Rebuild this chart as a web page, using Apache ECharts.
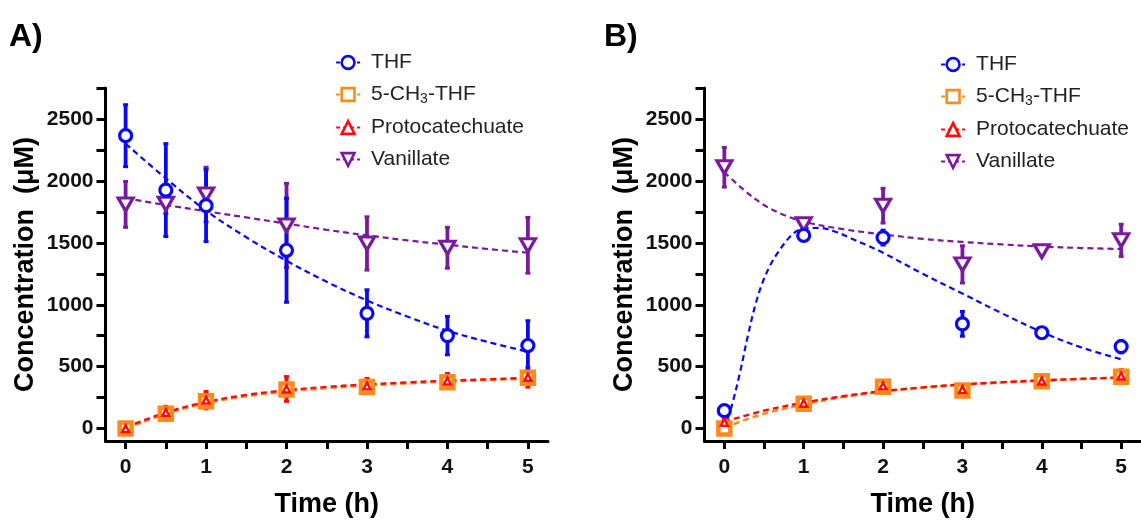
<!DOCTYPE html>
<html>
<head>
<meta charset="utf-8">
<script src="https://cdn.jsdelivr.net/npm/echarts@6/dist/echarts.min.js"></script>
<style>
html,body{margin:0;padding:0;background:#fff;}
#chart{width:1141px;height:523px;}
</style>
</head>
<body>
<div id="chart"></div>
<script>
// ---------- DATA ----------
const seriesNames = ['THF', '5-CH3-THF', 'Protocatechuate', 'Vanillate'];
const xTicks = [0, 0.5, 1, 1.5, 2, 2.5, 3, 3.5, 4, 4.5, 5];
const xLabels = [0, 1, 2, 3, 4, 5];
const yTicks = [0, 250, 500, 750, 1000, 1250, 1500, 1750, 2000, 2250, 2500, 2750];
const yLabels = [0, 500, 1000, 1500, 2000, 2500];

// Panel A measured points (mean, error)
const timesA = [0, 0.5, 1, 2, 3, 4, 5];
const thfA = [2365, 1926, 1800, 1440, 931, 751, 671];
const thfErrA = [250, 375, 290, 420, 190, 155, 200];
const ch3A = [0, 120, 220, 315, 335, 375, 410];
const ch3ErrA = [20, 30, 40, 60, 40, 40, 40];
const protoA = [0, 130, 230, 320, 345, 385, 415];
const protoErrA = [20, 50, 70, 100, 60, 60, 80];
const vanA = [1810, 1815, 1890, 1640, 1495, 1460, 1480];
const vanErrA = [185, 80, 220, 340, 215, 165, 225];

// Panel A fitted curves
const fitTA = [0, 0.5, 1, 1.5, 2, 2.5, 3, 3.5, 4, 4.5, 5];
const thfFitA = [2300, 2020, 1760, 1545, 1355, 1185, 1035, 905, 790, 700, 620];
const ch3FitA = [0, 120, 205, 262, 300, 327, 348, 365, 380, 393, 405];
const protoFitA = [10, 130, 215, 272, 310, 337, 357, 373, 387, 398, 410];
const vanFitA = [1860, 1805, 1755, 1705, 1655, 1605, 1560, 1520, 1485, 1450, 1420];

// Panel B measured points
const timesB = [0, 1, 2, 3, 4, 5];
const thfB = [145, 1560, 1542, 846, 774, 662];
const thfErrB = [15, 40, 60, 100, 20, 50];
const ch3B = [0, 200, 339, 307, 382, 419];
const ch3ErrB = [15, 25, 30, 30, 25, 30];
const protoB = [50, 205, 345, 315, 385, 425];
const protoErrB = [25, 40, 40, 30, 40, 50];
const vanB = [2110, 1650, 1800, 1326, 1432, 1520];
const vanErrB = [160, 40, 140, 150, 20, 130];

// Panel B fitted curves
const thfFitTB = [0, 0.1, 0.2, 0.3, 0.4, 0.5, 0.6, 0.7, 0.8, 0.9, 1, 1.2, 1.4, 1.6, 1.8, 2, 2.5, 3, 3.5, 4, 4.5, 5];
const thfFitB = [0, 200, 460, 760, 1020, 1210, 1345, 1445, 1530, 1590, 1615, 1620, 1590, 1535, 1480, 1420, 1250, 1090, 930, 780, 655, 560];
const vanFitTB = [0, 0.25, 0.5, 0.75, 1, 1.5, 2, 2.5, 3, 3.5, 4, 4.5, 5];
const vanFitB = [2070, 1925, 1805, 1725, 1670, 1610, 1568, 1532, 1507, 1487, 1470, 1458, 1450];
const fitTB = [0, 0.5, 1, 1.5, 2, 2.5, 3, 3.5, 4, 4.5, 5];
const ch3FitB = [10, 120, 195, 255, 300, 330, 355, 372, 387, 400, 410];
const protoFitB = [55, 145, 210, 262, 303, 333, 357, 375, 390, 402, 413];

// ---------- STYLE ----------
const FONT = '"Liberation Sans", Arial, Helvetica, sans-serif';
const C = { thf: '#0a0af0', ch3: '#ff8a1c', proto: '#ff0a0a', van: '#7a1a9c' };
const downTri = 'path://M0,0 L12,0 L6,10.4 Z';

const zip = (xs, ys) => xs.map((x, i) => [x, ys[i]]);
const errData = (xs, v, e) => xs.map((x, i) => [x, v[i] - e[i], v[i] + e[i]]);

function errSeries(idx, xs, v, e, color) {
  return {
    type: 'custom', xAxisIndex: idx, yAxisIndex: idx, silent: true,
    encode: { x: 0, y: [1, 2] },
    data: errData(xs, v, e),
    renderItem: function (params, api) {
      const x = api.value(0);
      const top = api.coord([x, api.value(2)]);
      const bot = api.coord([x, api.value(1)]);
      const cap = 2.5;
      return {
        type: 'group', children: [
          { type: 'line', shape: { x1: top[0], y1: top[1], x2: bot[0], y2: bot[1] }, style: { stroke: color, lineWidth: 3.8 } },
          { type: 'line', shape: { x1: top[0] - cap, y1: top[1], x2: top[0] + cap, y2: top[1] }, style: { stroke: color, lineWidth: 3 } },
          { type: 'line', shape: { x1: bot[0] - cap, y1: bot[1], x2: bot[0] + cap, y2: bot[1] }, style: { stroke: color, lineWidth: 3 } }
        ]
      };
    }
  };
}
function fitSeries(idx, name, xs, ys, color, w) {
  return {
    type: 'line', name: name, xAxisIndex: idx, yAxisIndex: idx, silent: true,
    data: zip(xs, ys), smooth: 0.35, symbol: 'none',
    lineStyle: { color: color, width: w || 2.2, type: [6, 4] }
  };
}
function markerSeries(idx, name, xs, ys, color, symbol, size, bw) {
  return {
    type: 'line', name: name, xAxisIndex: idx, yAxisIndex: idx, silent: true,
    data: zip(xs, ys), symbol: symbol, symbolSize: size, showSymbol: true, showAllSymbol: true,
    lineStyle: { color: color, width: 2, opacity: 0 },
    itemStyle: { color: '#fff', borderColor: color, borderWidth: bw, opacity: 1 }
  };
}
function panel(idx, d) {
  return [
    fitSeries(idx, 'vfit' + idx, d.vanFitT, d.vanFit, C.van, 2.2),
    errSeries(idx, d.t, d.van, d.vanErr, C.van),
    markerSeries(idx, 'Vanillate', d.t, d.van, C.van, downTri, [15, 13], 3.2),
    fitSeries(idx, 'cfit' + idx, d.fitT, d.ch3Fit, C.ch3, 2.6),
    errSeries(idx, d.t, d.ch3, d.ch3Err, C.ch3),
    markerSeries(idx, '5-CH3-THF', d.t, d.ch3, C.ch3, 'rect', 12, 4.5),
    fitSeries(idx, 'pfit' + idx, d.fitT, d.protoFit, C.proto, 2.4),
    errSeries(idx, d.t, d.proto, d.protoErr, C.proto),
    markerSeries(idx, 'Protocatechuate', d.t, d.proto, C.proto, 'triangle', 7, 2.4),
    fitSeries(idx, 'tfit' + idx, d.thfFitT, d.thfFit, C.thf, 2.2),
    errSeries(idx, d.t, d.thf, d.thfErr, C.thf),
    markerSeries(idx, 'THF', d.t, d.thf, C.thf, 'circle', 12, 3.2)
  ];
}

const series = [].concat(
  panel(0, { t: timesA, thf: thfA, thfErr: thfErrA, ch3: ch3A, ch3Err: ch3ErrA, proto: protoA, protoErr: protoErrA,
    van: vanA, vanErr: vanErrA, fitT: fitTA, thfFitT: fitTA, vanFitT: fitTA,
    thfFit: thfFitA, ch3Fit: ch3FitA, protoFit: protoFitA, vanFit: vanFitA }),
  panel(1, { t: timesB, thf: thfB, thfErr: thfErrB, ch3: ch3B, ch3Err: ch3ErrB, proto: protoB, protoErr: protoErrB,
    van: vanB, vanErr: vanErrB, fitT: fitTB, thfFitT: thfFitTB, vanFitT: vanFitTB,
    thfFit: thfFitB, ch3Fit: ch3FitB, protoFit: protoFitB, vanFit: vanFitB })
);

function xAxis(idx) {
  return {
    gridIndex: idx, type: 'value', min: -0.25, max: 5.25,
    axisLine: { show: true, onZero: false, lineStyle: { color: '#000', width: 3 } },
    axisTick: { show: true, length: 8, customValues: xTicks, lineStyle: { color: '#000', width: 3 } },
    axisLabel: { customValues: xLabels, fontSize: 21, fontWeight: 'bold', color: '#111', margin: 16, fontFamily: FONT,
      formatter: function (v) { return String(v); } },
    splitLine: { show: false },
    name: 'Time (h)', nameLocation: 'middle', nameGap: 50,
    nameTextStyle: { fontSize: 27, fontWeight: 'bold', color: '#000', fontFamily: FONT }
  };
}
function yAxis(idx) {
  return {
    gridIndex: idx, type: 'value', min: -100, max: 2750,
    axisLine: { show: true, onZero: false, lineStyle: { color: '#000', width: 3 } },
    axisTick: { show: true, length: 9, customValues: yTicks, lineStyle: { color: '#000', width: 3 } },
    axisLabel: { customValues: yLabels, fontSize: 21, fontWeight: 'bold', color: '#111', margin: 12, fontFamily: FONT,
      formatter: function (v) { return String(v); } },
    splitLine: { show: false },
    name: 'Concentration  (μM)', nameLocation: 'middle', nameGap: 66,
    nameTextStyle: { fontSize: 27, fontWeight: 'bold', color: '#000', fontFamily: FONT }
  };
}
function legend(left, top) {
  return {
    orient: 'vertical', left: left, top: top, itemWidth: 24, itemHeight: 16, itemGap: 11,
    data: seriesNames, selectedMode: false,
    lineStyle: { width: 2.2, type: [4, 3], opacity: 1 },
    itemStyle: { borderWidth: 2.6 },
    formatter: function (n) { return n === '5-CH3-THF' ? '5-CH{sub|3}-THF' : n; },
    textStyle: {
      fontSize: 21, color: '#222', fontFamily: FONT, padding: [0, 0, 0, 6],
      rich: { sub: { fontSize: 14, fontFamily: FONT, color: '#222', padding: [9, 0, 0, 0] } }
    }
  };
}

const option = {
  animation: false,
  backgroundColor: '#fff',
  title: [
    { text: 'A)', left: 9, top: 21, padding: 0, textStyle: { fontSize: 32, fontWeight: 'bold', color: '#000', fontFamily: FONT } },
    { text: 'B)', left: 604, top: 21, padding: 0, textStyle: { fontSize: 32, fontWeight: 'bold', color: '#000', fontFamily: FONT } }
  ],
  legend: [legend(330, 47), legend(935, 49)],
  grid: [
    { left: 105.5, top: 88, width: 442.5, height: 355 },
    { left: 704.5, top: 88, width: 442.5, height: 356 }
  ],
  xAxis: [xAxis(0), xAxis(1)],
  yAxis: [yAxis(0), yAxis(1)],
  series: series
};

const chart = echarts.init(document.getElementById('chart'), null, { renderer: 'canvas' });
chart.setOption(option);
</script>
</body>
</html>
